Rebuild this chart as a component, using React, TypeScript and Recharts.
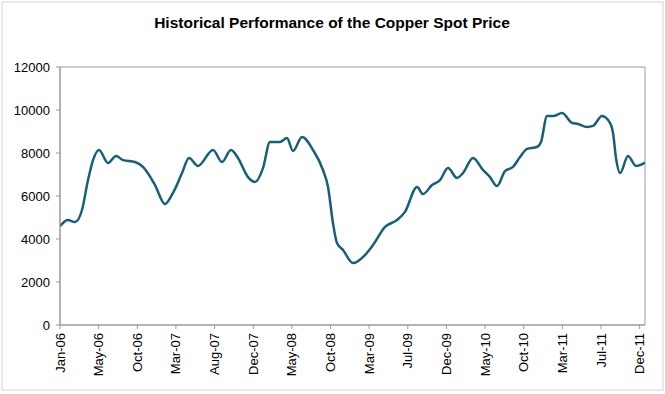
import React from 'react';
import { LineChart, Line, XAxis, YAxis, ReferenceArea } from 'recharts';

// month offsets from Jan-06 (fractional) and copper price
const monthPos = [
  0, 0.97, 1.82, 2.67, 3.4, 4.01, 4.73, 5.83, 6.8, 7.65,
  9.1, 10.07, 11.53, 12.74, 13.71, 14.81, 15.66, 16.75, 18.57, 19.66,
  20.75, 21.6, 22.82, 23.67, 24.64, 25.49, 26.7, 27.55, 28.28, 29.37,
  30.71, 31.92, 32.53, 33.13, 33.62, 34.35, 35.56, 37.02, 37.99, 39.45,
  40.9, 41.87, 43.33, 44.06, 45.15, 46.12, 47.09, 48.18, 48.91, 50.13,
  51.34, 52.19, 53.04, 54.01, 54.98, 55.83, 56.68, 57.89, 58.38, 59.11,
  59.84, 60.93, 62.14, 62.87, 63.96, 64.69, 65.78, 66.75, 67.12, 67.48,
  67.97, 68.94, 69.91, 71,
];
const prices = [
  4600, 4880, 4790, 5350, 6740, 7670, 8140, 7530, 7860, 7670,
  7580, 7350, 6510, 5630, 6140, 7070, 7770, 7400, 8140, 7580,
  8140, 7770, 6880, 6650, 7300, 8510, 8510, 8700, 8090, 8740,
  8140, 7210, 6420, 4740, 3810, 3490, 2880, 3260, 3720, 4560,
  4880, 5260, 6420, 6090, 6510, 6740, 7300, 6840, 7070, 7770,
  7210, 6880, 6460, 7160, 7350, 7810, 8190, 8280, 8510, 9720,
  9720, 9860, 9400, 9350, 9210, 9260, 9720, 9400, 8930, 7770,
  7070, 7860, 7400, 7560,
];
const tickLabels = [
  'Jan-06', 'May-06', 'Oct-06', 'Mar-07', 'Aug-07', 'Dec-07', 'May-08', 'Oct-08',
  'Mar-09', 'Jul-09', 'Dec-09', 'May-10', 'Oct-10', 'Mar-11', 'Jul-11', 'Dec-11',
];
const yTicks = [0, 2000, 4000, 6000, 8000, 10000, 12000];

const data = monthPos.map((m, i) => ({ m, price: prices[i] }));
const tickStep = 4.69;
const xTicks = tickLabels.map((_, i) => i * tickStep);

const FONT = "'Liberation Sans', Arial, sans-serif";

function XTick(props: any) {
  const { x, y, payload } = props;
  const idx = Math.round(payload.value / tickStep);
  return (
    <text
      x={x}
      y={y}
      transform={`rotate(-90, ${x}, ${y})`}
      textAnchor="end"
      dy="0.35em"
      fontSize={13}
      fontFamily={FONT}
      fill="#000"
    >
      {tickLabels[idx]}
    </text>
  );
}

export default function App() {
  return (
    <div style={{ position: 'absolute', left: 0, top: 0, width: 665, height: 394, background: '#fff' }}>
      <svg width={665} height={394} style={{ position: 'absolute', left: 0, top: 0 }}>
        <rect x={2} y={2} width={661} height={388} fill="none" stroke="#d4d4d4" />
        <text
          x={332}
          y={28}
          textAnchor="middle"
          fontSize={15.5}
          fontWeight="bold"
          fontFamily={FONT}
          fill="#000"
        >
          Historical Performance of the Copper Spot Price
        </text>
      </svg>
      <div style={{ position: 'absolute', left: 0, top: 0 }}>
        <LineChart width={665} height={394} data={data} margin={{ top: 67, right: 20, left: 0, bottom: 9 }}>
          <XAxis
            dataKey="m"
            type="number"
            domain={[0, 71]}
            ticks={xTicks}
            interval={0}
            tick={<XTick />}
            tickSize={4}
            tickMargin={4}
            height={60}
            stroke="#999"
            allowDataOverflow
          />
          <YAxis
            domain={[0, 12000]}
            ticks={yTicks}
            interval={0}
            width={60}
            tickSize={4}
            tickMargin={6}
            stroke="#999"
            tick={{ fill: '#000', fontSize: 13, fontFamily: FONT }}
          />
          <ReferenceArea x1={0} x2={71} y1={0} y2={12000} fill="none" stroke="#999" strokeWidth={1} ifOverflow="visible" />
          <Line
            type="monotone"
            dataKey="price"
            stroke="#17607a"
            strokeWidth={2.5}
            dot={false}
            isAnimationActive={false}
          />
        </LineChart>
      </div>
    </div>
  );
}
